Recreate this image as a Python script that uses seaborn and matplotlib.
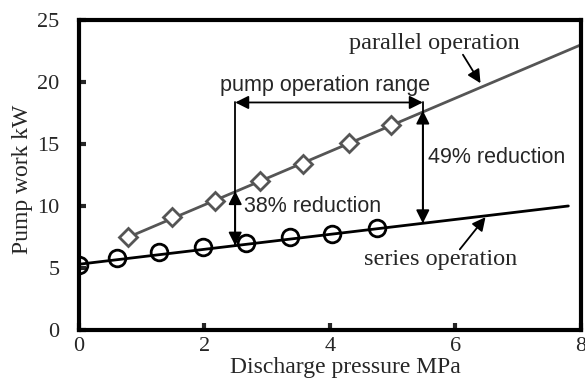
import numpy as np
import pandas as pd
import seaborn as sns
import matplotlib.pyplot as plt

# measured points
par_x = [0.78, 1.48, 2.17, 2.88, 3.57, 4.30, 4.98]
par_y = [7.5, 9.1, 10.4, 12.0, 13.4, 15.1, 16.5]
ser_x = [0.0, 0.6, 1.28, 1.98, 2.66, 3.36, 4.03, 4.75]
ser_y = [5.25, 5.8, 6.25, 6.7, 7.0, 7.5, 7.7, 8.2]

# trend lines (end points)
par_fit_x = [0.78, 8.0]
par_fit_y = [7.47, 23.0]
ser_fit_x = [0.0, 7.8]
ser_fit_y = [5.3, 10.0]

x_ticks = [0, 2, 4, 6, 8]
y_ticks = [0, 5, 10, 15, 20, 25]

sns.set_style("white")
plt.rcParams["font.family"] = ["Liberation Serif", "DejaVu Serif"]

fig = plt.figure(figsize=(5.85, 3.85), dpi=100)
ax = fig.add_axes([0.135, 0.143, 0.858, 0.805])

par_col = "#555555"
sns.lineplot(x=par_fit_x, y=par_fit_y, color=par_col, lw=2, ax=ax)
sns.lineplot(x=ser_fit_x, y=ser_fit_y, color="black", lw=2, ax=ax)
ax.plot(par_x, par_y, ls="none", marker="D", ms=9.5, mfc="white", mec=par_col, mew=2)
ax.plot(ser_x, ser_y, ls="none", marker="o", ms=12, mfc="none", mec="black", mew=2)

ax.set_xlim(0, 8)
ax.set_ylim(0, 25)
ax.set_xticks(x_ticks)
ax.set_yticks(y_ticks)
ax.tick_params(direction="in", length=5, width=3, labelsize=16,
               top=False, right=False, left=True, bottom=True)
ax.tick_params(axis="y", pad=14)
ax.tick_params(axis="x", pad=5)
for s in ax.spines.values():
    s.set_linewidth(3)
    s.set_color("black")
ax.set_xlabel("Discharge pressure MPa", fontsize=17)
ax.set_ylabel("Pump work kW", fontsize=17)
ax.xaxis.set_label_coords(0.531, -0.088)
ax.yaxis.set_label_coords(-0.092, 0.485)

sans = ["Liberation Sans", "DejaVu Sans"]
ahead = dict(arrowstyle="-|>", color="black", lw=1.3, mutation_scale=20, shrinkA=0, shrinkB=0)
dbl = dict(arrowstyle="<|-|>", color="black", lw=1.3, mutation_scale=20, shrinkA=0, shrinkB=0)

# operation range
ax.annotate("", xy=(2.49, 18.35), xytext=(5.48, 18.35), arrowprops=dbl)
ax.text(3.92, 19.75, "pump operation range", family=sans, fontsize=15.5, ha="center", va="center")
for xv, ylow in [(2.49, 6.8), (5.48, 8.6)]:
    ax.plot([xv, xv], [18.35, ylow], color="black", lw=1.3)
ax.annotate("", xy=(2.49, 11.2), xytext=(2.49, 6.8), arrowprops=dbl)
ax.annotate("", xy=(5.48, 17.7), xytext=(5.48, 8.6), arrowprops=dbl)
ax.text(2.63, 9.95, "38% reduction", family=sans, fontsize=15.5, ha="left", va="center")
ax.text(5.56, 13.9, "49% reduction", family=sans, fontsize=15.5, ha="left", va="center")

ax.text(5.66, 23.1, "parallel operation", fontsize=17.5, ha="center", va="center")
ax.annotate("", xy=(6.4, 19.9), xytext=(6.12, 22.2), arrowprops=ahead)
ax.text(5.77, 5.65, "series operation", fontsize=17.5, ha="center", va="center")
ax.annotate("", xy=(6.48, 9.1), xytext=(6.07, 6.5), arrowprops=ahead)

fig.savefig("out.png", dpi=100)
